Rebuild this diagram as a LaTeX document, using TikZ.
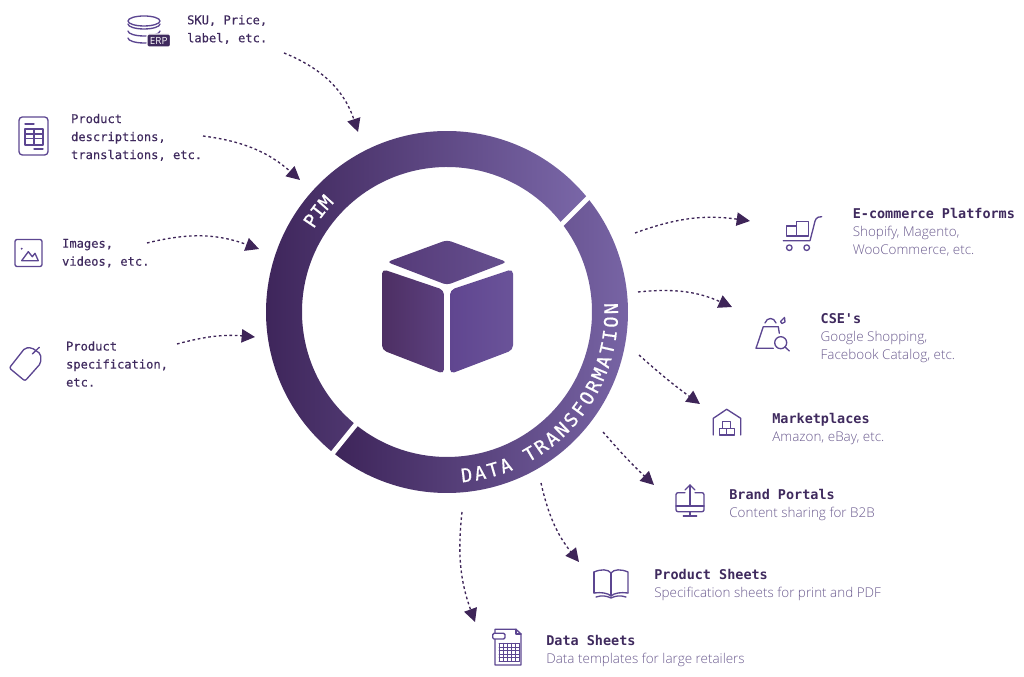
\documentclass[tikz,border=0pt]{standalone}
\usepackage{fontspec}
\usepackage{xcolor}
\usetikzlibrary{positioning,arrows.meta,decorations.text}
\newfontfamily\monofont{DejaVu Sans Mono}[FakeBold=0.35]
\newfontfamily\headfont{DejaVu Sans Mono Bold}
\newfontfamily\ringfont{DejaVu Sans Mono}[FakeBold=0.7]
\newfontfamily\lightfont{Open Sans Light}
\newfontfamily\tagfont{Open Sans}
\definecolor{inkdark}{HTML}{3F2A5E}
\definecolor{inksoft}{HTML}{6A5A8E}
\definecolor{arrowdark}{HTML}{3E2558}
\definecolor{iconpurple}{HTML}{5C4691}
\definecolor{ringdark}{HTML}{3D2459}
\definecolor{ringlight}{HTML}{7A67A8}
\definecolor{cubeleftA}{HTML}{4D2F63}
\definecolor{cubeleftB}{HTML}{5C407F}
\definecolor{cuberightA}{HTML}{604690}
\definecolor{cuberightB}{HTML}{6A5399}
\definecolor{cubetopA}{HTML}{553A78}
\definecolor{cubetopB}{HTML}{66508F}
\newcommand{\destname}[1]{{\headfont\fontsize{10.1pt}{13.5pt}\selectfont\color{inkdark}#1}}

\begin{document}
\begin{tikzpicture}[x=0.75pt, y=0.75pt,
    spot/.style = {inner sep=0pt, minimum size=0pt},
    src/.style = {inner sep=0pt, align=left, text=inkdark, font=\monofont\fontsize{9.07pt}{13.5pt}\selectfont},
    dest/.style = {inner sep=0pt, align=left, text=inksoft, font=\lightfont\fontsize{10.1pt}{13.3pt}\selectfont},
    flow/.style = {draw=arrowdark, line width=1pt, dash pattern=on 2pt off 2pt, -{Triangle[length=10pt,width=10pt]}},
    iconline/.style = {color=iconpurple, line width=1pt, line cap=round, line join=round},
    gapline/.style = {draw=white, line width=3.6pt}]
        \useasboundingbox (0,0) rectangle (1024,677);
        \coordinate (hub) at (447,365);

        \shade[left color=ringdark, right color=ringlight] ([shift={(38.9:181)}]hub) arc[start angle=38.9, end angle=231, radius=181] -- ([shift={(231:145)}]hub) arc[start angle=231, end angle=37.5, radius=145] -- cycle;
        \shade[left color=ringdark, right color=ringlight] ([shift={(231:181)}]hub) arc[start angle=231, end angle=398.9, radius=181] -- ([shift={(37.5:145)}]hub) arc[start angle=397.5, end angle=231, radius=145] -- cycle;
        \draw[gapline] (557,448) -- (594,485);
        \draw[gapline] ([shift={(231:140)}]hub) -- ([shift={(231:186)}]hub);
        \path[decorate, decoration={text along path, text align=center, text={|\ringfont\fontsize{14pt}{14pt}\selectfont\color{white}|PIM}}] ([shift={(160:157)}]hub) arc[start angle=160, end angle=124, radius=157];
        \path[decorate, decoration={text along path, text align=fit to path, text={|\ringfont\fontsize{14pt}{14pt}\selectfont\color{white}|DATA TRANSFORMATION}}] ([shift={(-85:171)}]hub) arc[start angle=-85, end angle=3, radius=171];

        \shade[left color=cubetopA, right color=cubetopB, rounded corners=3pt] (387,415) -- (447,437) -- (507,415) -- (447,392) -- cycle;
        \shade[left color=cubeleftA, right color=cubeleftB, rounded corners=3.5pt] (382,408) -- (444,387) -- (444,303) -- (382,327) -- cycle;
        \shade[left color=cuberightA, right color=cuberightB, rounded corners=3.5pt] (450,387) -- (513,408) -- (513,327) -- (450,303) -- cycle;

        \node[spot] (erp) at (149,646) {};
        \node[spot] (doc) at (33.5,541) {};
        \node[spot] (img) at (28.5,424) {};
        \node[spot] (tag) at (25,313) {};
        \node[spot] (cart) at (802,443) {};
        \node[spot] (cse) at (772,343) {};
        \node[spot] (market) at (727,255) {};
        \node[spot] (brand) at (690,177) {};
        \node[spot] (book) at (611,94) {};
        \node[spot] (dsheet) at (507,30) {};

        \node[src] (erptext) [right=28.2pt of erp, yshift=1.1pt] {SKU, Price,\\label, etc.};
        \node[src] (doctext) [right=27.8pt of doc, yshift=-1pt] {Product\\descriptions,\\translations, etc.};
        \node[src] (imgtext) [right=24.8pt of img, yshift=-0.1pt] {Images,\\videos, etc.};
        \node[src] (tagtext) [right=30.4pt of tag, yshift=-0.05pt] {Product\\specification,\\etc.};
        \node[dest] (carttext) [right=37.7pt of cart, yshift=1.4pt] {\destname{E-commerce Platforms}\\Shopify, Magento,\\WooCommerce, etc.};
        \node[dest] (csetext) [right=36.1pt of cse, yshift=-3.1pt] {\destname{CSE's}\\Google Shopping,\\Facebook Catalog, etc.};
        \node[dest] (markettext) [right=33.6pt of market, yshift=-5.4pt] {\destname{Marketplaces}\\Amazon, eBay, etc.};
        \node[dest] (brandtext) [right=29.1pt of brand, yshift=-4pt] {\destname{Brand Portals}\\Content sharing for B2B};
        \node[dest] (booktext) [right=32.1pt of book, yshift=-1.7pt] {\destname{Product Sheets}\\Specification sheets for print and PDF};
        \node[dest] (dsheettext) [right=29.1pt of dsheet, yshift=-3.2pt] {\destname{Data Sheets}\\Data templates for large retailers};

        \coordinate (erpout) at (284,624);
        \coordinate (erpin) at (358,545);
        \coordinate (docout) at (203,541);
        \coordinate (docin) at (300,497);
        \coordinate (imgout) at (147,434);
        \coordinate (imgin) at (259,428);
        \coordinate (tagout) at (177,333);
        \coordinate (tagin) at (255,340);
        \coordinate (cartout) at (635,444);
        \coordinate (cartin) at (750,456);
        \coordinate (cseout) at (638,385);
        \coordinate (csein) at (732,370);
        \coordinate (marketout) at (639,322);
        \coordinate (marketin) at (700,273);
        \coordinate (brandout) at (603,245);
        \coordinate (brandin) at (654,192);
        \coordinate (bookout) at (541,194);
        \coordinate (bookin) at (579,115);
        \coordinate (dsheetout) at (462,165);
        \coordinate (dsheetin) at (475,55);

        \draw[flow] (erpout) to[bend left=25] (erpin);
        \draw[flow] (docout) to[bend left=17] (docin);
        \draw[flow] (imgout) to[bend left=17] (imgin);
        \draw[flow] (tagout) to[bend left=10] (tagin);
        \draw[flow] (cartout) to[bend left=14] (cartin);
        \draw[flow] (cseout) to[bend left=15] (csein);
        \draw[flow] (marketout) to[bend right=3] (marketin);
        \draw[flow] (brandout) to[bend right=3] (brandin);
        \draw[flow] (bookout) to[bend right=13] (bookin);
        \draw[flow] (dsheetout) to[bend right=13] (dsheetin);

        \begin{scope}[shift={(erp)}, iconline]
            \draw (-5,10) ellipse [x radius=16, y radius=5];
            \draw (-21,7) arc[start angle=180, end angle=360, x radius=16, y radius=5];
            \draw (-21,0) arc[start angle=180, end angle=360, x radius=16, y radius=5];
            \draw (-21,-7) arc[start angle=180, end angle=360, x radius=16, y radius=5];
            \fill[draw=white, line width=1pt, fill=inkdark, rounded corners=1pt] (-2,-3) rectangle (21.5,-16);
            \node[text=white, inner sep=0pt, font=\tagfont\fontsize{7.4pt}{8pt}\selectfont] (erptag) at (9.7,-9.5) {ERP};
        \end{scope}

        \begin{scope}[shift={(doc)}, iconline]
            \draw[rounded corners=2.5pt] (-14.5,-19) rectangle (14.5,19);
            \draw (-8.5,12) -- (0.5,12);
            \draw (-8.5,7) rectangle (9.5,-9);
            \draw (-8.5,2) -- (9.5,2) (-8.5,-2.5) -- (9.5,-2.5) (0.5,7) -- (0.5,-9);
            \draw (0.5,-13) -- (9.5,-13);
        \end{scope}

        \begin{scope}[shift={(img)}, iconline]
            \draw[rounded corners=1.5pt] (-13.5,-13.5) rectangle (13.5,13.5);
            \fill (-6.8,4.3) circle [radius=1.1];
            \draw (-6.8,-7.7) -- (-0.2,1.3) -- (3.8,-3.7) -- (6.5,-0.3) -- (9.8,-7.7) -- cycle;
        \end{scope}

        \begin{scope}[shift={(tag)}, iconline]
            \draw[rounded corners=1.5pt] (-15.7,-4) -- (0,16) -- (6.7,16.3) -- (15.7,10) -- (15.7,0.7) -- (0,-17) -- cycle;
            \draw (7.3,10) -- (14.3,16.7);
        \end{scope}

        \begin{scope}[shift={(cart)}, iconline]
            \draw (19.7,17.3) .. controls (14,17.5) and (13,14) .. (12.3,10) -- (8,-6.7) -- (-18.7,-6.7);
            \draw (-15.3,8) rectangle (-5.3,-2);
            \draw (-5.3,12.3) rectangle (6.3,-2);
            \draw (-12.7,-13.7) circle [radius=2.8];
            \draw (4.7,-13.7) circle [radius=2.8];
        \end{scope}

        \begin{scope}[shift={(cse)}, iconline]
            \draw (7.3,0.7) -- (6.3,7.3) -- (-8.7,7.3) -- (-16,-14.3) -- (1.3,-14.3);
            \draw (-7,11) .. controls (-5,17) and (2,17) .. (4,11);
            \draw (8.7,-8.7) circle [radius=6];
            \draw (12.9,-12.9) -- (17.3,-17);
            \draw (8.5,12.5) -- (12.5,16.5) -- (13,12) -- (10,10.5) -- cycle;
        \end{scope}

        \begin{scope}[shift={(market)}, iconline]
            \draw (-13.7,-13) -- (-13.7,3.7) -- (-0.3,12.7) -- (13.7,3.7) -- (13.7,-13);
            \draw (-4.3,0.3) rectangle (3.7,-6.3);
            \draw (-7.7,-6.3) rectangle (-0.3,-13);
            \draw (-0.3,-6.3) rectangle (7.3,-13);
        \end{scope}

        \begin{scope}[shift={(brand)}, iconline]
            \draw[rounded corners=1.5pt] (-5,7.3) -- (-14,7.3) -- (-14,-11.7) -- (14,-11.7) -- (14,7.3) -- (5,7.3);
            \draw (-14,-6) -- (14,-6);
            \draw (0,15) -- (0,-5);
            \draw (-5,10) -- (0,15) -- (5,10);
            \draw (0,-11.7) -- (0,-16);
            \draw (-6.7,-16) -- (6.7,-16);
        \end{scope}

        \begin{scope}[shift={(book)}, iconline]
            \draw (-17,11) .. controls (-10,14) and (-3,14) .. (0,10) .. controls (3,14) and (10,14) .. (17,11) -- (17,-10);
            \draw (-17,11) -- (-17,-10);
            \draw (0,10) -- (0,-13);
            \draw (-17,-10) .. controls (-10,-9) and (-3,-10) .. (0,-13) .. controls (3,-10) and (10,-9) .. (17,-10);
            \draw (-15,-14) .. controls (-9,-12) and (-4,-13) .. (0,-15) .. controls (4,-13) and (9,-12) .. (15,-14);
        \end{scope}

        \begin{scope}[shift={(dsheet)}, iconline]
            \draw (9,17.7) -- (-12,17.7) -- (-12,-18) -- (14,-18) -- (14,13) -- cycle;
            \draw (9,17.7) -- (9,13) -- (14,13);
            \fill[draw=iconpurple, fill=white, rounded corners=1pt] (-14.3,13.7) rectangle (-2,8);
            \draw[line width=0.7pt] (-8,-14.4) grid[xstep=4, ystep=3.6] (12,3.6);
        \end{scope}
    \end{tikzpicture}
\end{document}
